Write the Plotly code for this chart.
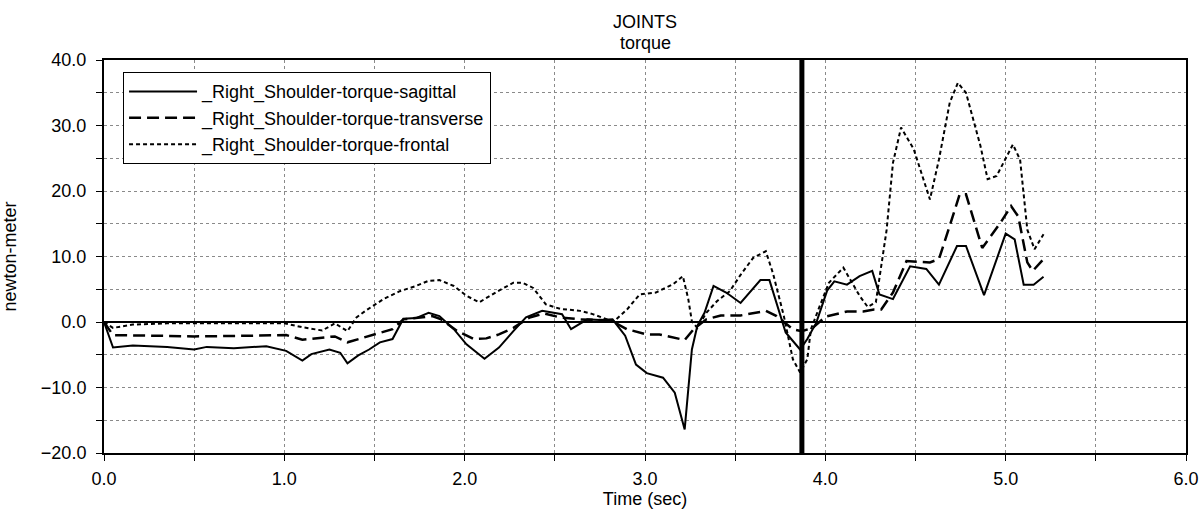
import plotly.graph_objects as go

# ---- data ----
sag_t = [0.0, 0.05, 0.16, 0.35, 0.50, 0.57, 0.72, 0.90, 1.01, 1.10, 1.15, 1.25, 1.31, 1.35, 1.41, 1.47,
         1.53, 1.60, 1.66, 1.73, 1.80, 1.86, 1.94, 2.01, 2.11, 2.19, 2.27, 2.34, 2.43, 2.54, 2.59, 2.68,
         2.75, 2.82, 2.89, 2.95, 3.01, 3.10, 3.165, 3.22, 3.26, 3.29, 3.33, 3.38, 3.45, 3.53, 3.64, 3.69,
         3.78, 3.86, 3.90, 3.95, 4.01, 4.05, 4.12, 4.19, 4.26, 4.30, 4.375, 4.47, 4.56, 4.63, 4.73, 4.78,
         4.88, 5.00, 5.05, 5.10, 5.155, 5.21]
sag_v = [0.0, -3.9, -3.6, -3.8, -4.2, -3.8, -4.0, -3.7, -4.4, -5.9, -4.9, -4.2, -4.7, -6.3, -5.1, -4.2,
         -3.1, -2.6, 0.5, 0.6, 1.4, 0.9, -1.1, -3.4, -5.6, -3.9, -1.4, 0.7, 1.7, 1.2, -1.1, 0.4,
         0.3, 0.4, -2.1, -6.5, -7.8, -8.5, -10.8, -16.4, -4.2, -0.6, 1.4, 5.5, 4.5, 2.9, 6.4, 6.4,
         -1.6, -4.2, -2.6, -0.1, 4.8, 6.2, 5.7, 7.0, 7.8, 4.2, 3.5, 8.5, 8.1, 5.7, 11.6, 11.6,
         4.1, 13.5, 12.6, 5.7, 5.7, 6.9]

trans_t = [0.0, 0.05, 0.30, 0.50, 0.80, 1.01, 1.10, 1.17, 1.28, 1.35, 1.46, 1.53, 1.60, 1.66, 1.75, 1.82,
           1.87, 1.96, 2.05, 2.12, 2.19, 2.27, 2.36, 2.44, 2.53, 2.64, 2.75, 2.82, 2.90, 3.01, 3.08, 3.22,
           3.27, 3.34, 3.42, 3.53, 3.67, 3.73, 3.82, 3.87, 3.93, 4.00, 4.12, 4.21, 4.27, 4.31, 4.375, 4.45,
           4.58, 4.63, 4.69, 4.745, 4.78, 4.87, 4.97, 5.03, 5.07, 5.12, 5.15, 5.21]
trans_v = [0.0, -2.0, -2.1, -2.2, -2.1, -2.0, -2.7, -2.5, -2.2, -3.1, -2.2, -1.6, -1.1, 0.4, 0.7, 0.9,
           0.4, -1.4, -2.6, -2.5, -1.9, -0.9, 0.7, 1.3, 0.7, 0.4, 0.3, 0.1, -1.1, -1.9, -1.9, -2.75,
           -1.1, 0.4, 1.0, 1.0, 1.7, 0.9, -1.1, -1.4, -0.9, 0.8, 1.6, 1.6, 1.9, 1.9, 4.5, 9.3,
           9.1, 9.6, 14.7, 19.5, 19.5, 11.3, 15.1, 17.7, 16.1, 9.1, 7.8, 9.6]

front_t = [0.0, 0.05, 0.16, 0.35, 0.60, 1.00, 1.10, 1.21, 1.28, 1.35, 1.40, 1.46, 1.55, 1.64, 1.73, 1.80,
           1.86, 1.94, 2.01, 2.08, 2.19, 2.27, 2.32, 2.38, 2.45, 2.53, 2.64, 2.71, 2.79, 2.83, 2.90, 2.97,
           3.06, 3.155, 3.21, 3.24, 3.26, 3.29, 3.34, 3.40, 3.47, 3.53, 3.60, 3.67, 3.71, 3.77, 3.82, 3.86,
           3.90, 3.92, 3.97, 4.02, 4.10, 4.19, 4.235, 4.28, 4.34, 4.375, 4.42, 4.49, 4.58, 4.63, 4.69, 4.735,
           4.78, 4.86, 4.90, 4.95, 5.04, 5.08, 5.12, 5.16, 5.21]
front_v = [0.0, -0.9, -0.4, -0.2, -0.2, -0.2, -0.8, -1.3, -0.2, -1.4, 0.7, 1.9, 3.5, 4.7, 5.5, 6.3,
           6.4, 5.5, 4.0, 3.0, 4.8, 6.0, 6.0, 5.2, 2.7, 2.0, 1.7, 1.2, 0.4, 0.15, 1.9, 4.2,
           4.5, 5.75, 7.0, 3.5, 0.1, -0.9, 1.4, 3.2, 4.7, 7.2, 9.8, 10.8, 7.4, 0.9, -5.7, -7.7,
           -5.7, -1.1, 2.5, 6.0, 8.3, 4.0, 2.3, 3.0, 14.1, 24.3, 29.7, 26.4, 18.7, 24.8, 33.5, 36.5,
           35.0, 26.9, 21.8, 22.3, 27.1, 24.8, 14.1, 11.1, 13.4]

series_names = ["_Right_Shoulder-torque-sagittal",
                "_Right_Shoulder-torque-transverse",
                "_Right_Shoulder-torque-frontal"]
cursor_time = 3.87
x_range = [0.0, 6.0]
y_range = [-20.0, 40.0]

FONT = "Liberation Sans, Arial, sans-serif"
FS = 18

fig = go.Figure()
fig.add_trace(go.Scatter(x=sag_t, y=sag_v, mode="lines", name=series_names[0],
                         line=dict(color="black", width=2, dash="solid")))
fig.add_trace(go.Scatter(x=trans_t, y=trans_v, mode="lines", name=series_names[1],
                         line=dict(color="black", width=2.5, dash="12px,6px")))
fig.add_trace(go.Scatter(x=front_t, y=front_v, mode="lines", name=series_names[2],
                         line=dict(color="black", width=2, dash="4px,3px")))

# thick cursor line
fig.add_shape(type="line", xref="x", yref="y", x0=cursor_time, x1=cursor_time,
              y0=y_range[0], y1=y_range[1], line=dict(color="black", width=5), layer="above")

fig.update_layout(
    width=1202, height=509,
    margin=dict(l=104, r=16, t=60, b=56, autoexpand=False),
    paper_bgcolor="white", plot_bgcolor="white",
    font=dict(family=FONT, size=FS, color="black"),
    showlegend=True,
    legend=dict(x=0.0176, y=0.969, xanchor="left", yanchor="top",
                bgcolor="white", bordercolor="black", borderwidth=1,
                font=dict(family=FONT, size=FS, color="black"),
                itemwidth=68, tracegroupgap=0),
    annotations=[
        dict(text="JOINTS", xref="paper", yref="paper", x=0.5, y=(453 - 22) / 393,
             showarrow=False, xanchor="center", yanchor="middle",
             font=dict(family=FONT, size=FS)),
        dict(text="torque", xref="paper", yref="paper", x=0.5, y=(453 - 43) / 393,
             showarrow=False, xanchor="center", yanchor="middle",
             font=dict(family=FONT, size=FS)),
    ],
    xaxis=dict(range=x_range, dtick=1.0, tick0=0, tickformat=".1f", automargin=False,
               showline=True, linecolor="black", linewidth=1.5, mirror=True,
               ticks="outside", ticklen=6, tickcolor="black", ticklabelstandoff=3,
               showgrid=True, gridcolor="#8a8a8a", griddash="dot", gridwidth=1,
               zeroline=False,
               minor=dict(dtick=0.5, tick0=0, showgrid=True, gridcolor="#8a8a8a",
                          griddash="dot", ticks="outside", ticklen=6, tickcolor="black"),
               title=dict(text="Time (sec)", standoff=2, font=dict(family=FONT, size=FS)),
               tickfont=dict(family=FONT, size=FS)),
    yaxis=dict(range=y_range, dtick=10.0, tick0=0, tickformat=".1f", automargin=False,
               showline=True, linecolor="black", linewidth=2, mirror=True,
               ticks="outside", ticklen=6, tickcolor="black", ticklabelstandoff=6,
               showgrid=True, gridcolor="#8a8a8a", griddash="dot", gridwidth=1,
               zeroline=True, zerolinecolor="black", zerolinewidth=1.5,
               minor=dict(dtick=5.0, tick0=0, showgrid=True, gridcolor="#8a8a8a",
                          griddash="dot", ticks="outside", ticklen=6, tickcolor="black"),
               title=dict(text="newton-meter", standoff=20, font=dict(family=FONT, size=FS)),
               tickfont=dict(family=FONT, size=FS)),
)

fig.write_html("out.html")
